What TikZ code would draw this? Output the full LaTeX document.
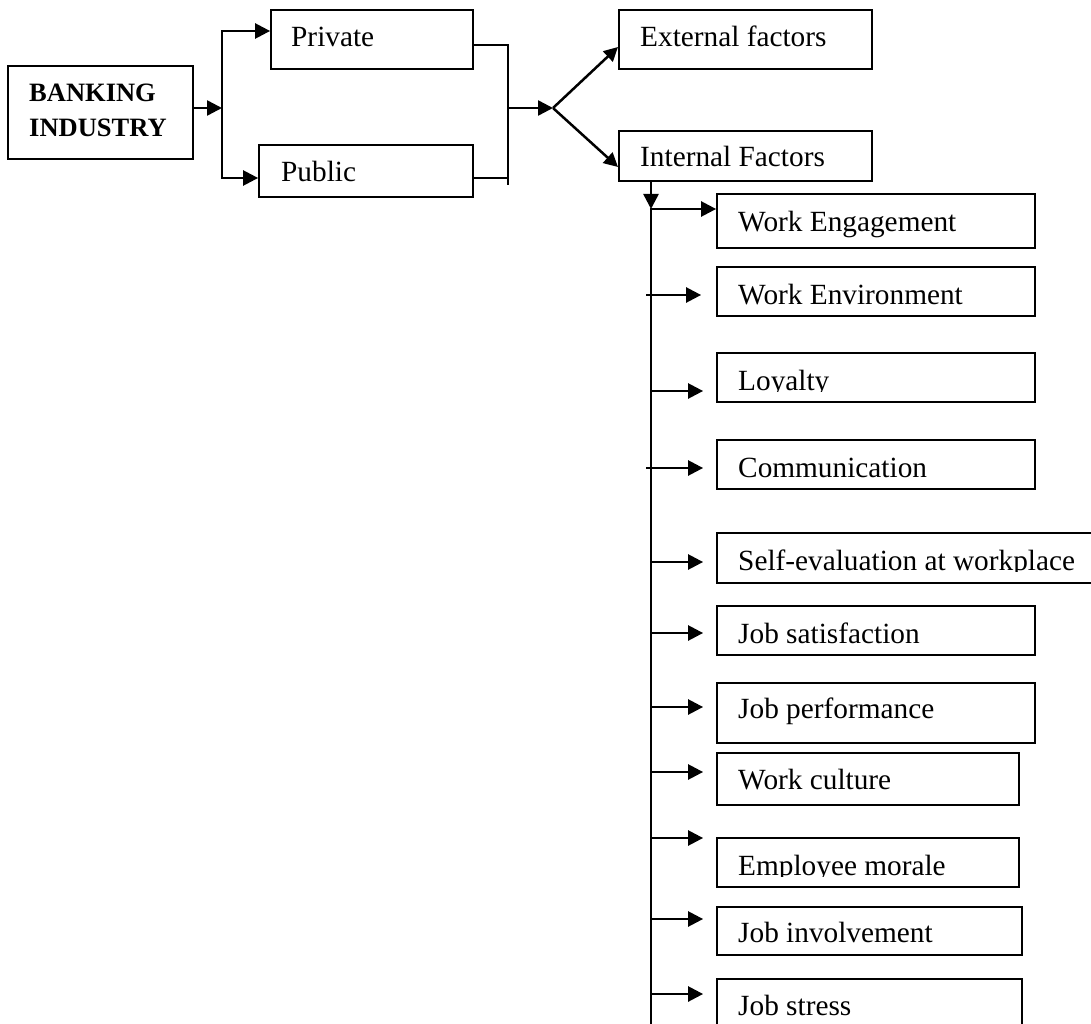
\documentclass[tikz,border=0pt]{standalone}
\usepackage{fontspec}
\setmainfont{Liberation Serif}
\usetikzlibrary{arrows.meta,fit,calc}
\begin{document}
\begin{tikzpicture}[x=1pt,y=-1pt,
  box/.style={draw, line width=1.8pt, inner sep=0pt, rectangle},
  lbl/.style={anchor=base west, inner sep=0pt, font=\fontsize{29.3}{34}\selectfont},
  blbl/.style={anchor=base west, inner sep=0pt, font=\fontsize{26.5}{35}\selectfont\bfseries},
  arr/.style={line width=2.5pt, line cap=rect, -{Triangle[length=15pt,width=15pt]}},
  darr/.style={line width=2.5pt, -{Triangle[length=14pt,width=14pt]}},
  conn/.style={line width=2.5pt},
  thinconn/.style={line width=1.6pt}]
\useasboundingbox (0,0) rectangle (1091,1024);
\clip (0,0) rectangle (1091,1024);

% boxes
\node[box, fit={(8,66) (193,159)}] (bank) {};
\node[box, fit={(271,10) (473,69)}] (priv) {};
\node[box, fit={(259,145) (473,197)}] (pub) {};
\node[box, fit={(619,10) (872,69)}] (ext) {};
\node[box, fit={(619,131) (872,181)}] (int) {};
\node[box, fit={(717,194) (1035,248)}] (we) {};
\node[box, fit={(717,267) (1035,316)}] (wenv) {};
\node[box, fit={(717,353) (1035,402)}] (loy) {};
\node[box, fit={(717,440) (1035,489)}] (com) {};
\node[box, fit={(717,533) (1110,583)}] (self) {};
\node[box, fit={(717,606) (1035,655)}] (jsat) {};
\node[box, fit={(717,683) (1035,743)}] (jperf) {};
\node[box, fit={(717,753) (1019,805)}] (wcul) {};
\node[box, fit={(717,838) (1019,887)}] (emor) {};
\node[box, fit={(717,907) (1022,955)}] (jinv) {};
\node[box, fit={(717,979) (1022,1040)}] (jstr) {};

% texts
\node[blbl] (bank-t1) at (29,102) {BANKING};
\node[blbl] (bank-t2) at (29,137) {INDUSTRY};
\node[lbl] (priv-t) at (291,47) {Private};
\node[lbl] (pub-t) at (281,182) {Public};
\node[lbl] (ext-t) at (640,47) {External factors};
\node[lbl] (int-t) at (640,167) {Internal Factors};
\node[lbl] (we-t) at (738,232) {Work Engagement};
\node[lbl] (wenv-t) at (738,304) {Work Environment};
\begin{scope}
  \clip (717,353) rectangle (1035,391.5);
  \node[lbl] (loy-t) at (738,390) {Loyalty};
\end{scope}
\node[lbl] (com-t) at (738,477) {Communication};
\begin{scope}
  \clip (717,533) rectangle (1091,571.5);
  \node[lbl] (self-t) at (738,570) {Self-evaluation at workplace};
\end{scope}
\node[lbl] (jsat-t) at (738,643) {Job satisfaction};
\node[lbl] (jperf-t) at (738,718) {Job performance};
\node[lbl] (wcul-t) at (738,789) {Work culture};
\begin{scope}
  \clip (717,838) rectangle (1019,876.5);
  \node[lbl] (emor-t) at (738,875) {Employee morale};
\end{scope}
\node[lbl] (jinv-t) at (738,942) {Job involvement};
\node[lbl] (jstr-t) at (738,1015) {Job stress};

% left fork
\coordinate (f1) at (222,108);
\coordinate (f1a) at (222,31);
\coordinate (f1b) at (222,178);
\draw[arr] (bank.east |- f1) -- (f1);
\draw[arr] (f1b) -- (f1a) -- (priv.west |- f1a);
\draw[arr] (f1b) -- (pub.west |- f1b);

% merge
\coordinate (m1) at (508,45);
\coordinate (m2) at (508,178);
\coordinate (m3) at (508,185);
\coordinate (m0) at (508,108);
\coordinate (j) at (553,108);
\draw[thinconn] (priv.east |- m1) -- (m1) -- (m3);
\draw[thinconn] (pub.east |- m2) -- (m2);
\draw[arr] (m0) -- (j);

% split
\coordinate (e1) at (618,47);
\coordinate (i1) at (618,167);
\draw[darr] (j) -- (e1);
\draw[darr] (j) -- (i1);

% trunk
\coordinate (t0) at (651,209);
\coordinate (tb) at (651,1035);
\draw[arr] (int.south -| t0) -- (t0);
\draw[conn] (t0) -- (tb);
\draw[arr] (t0) -- (we.west |- t0);

\draw[arr, shorten >=15pt] (647,295) -- (wenv.west |- 0,295);
\draw[arr, shorten >=13pt] (651,391) -- (loy.west |- 0,391);
\draw[arr, shorten >=13pt] (647,468) -- (com.west |- 0,468);
\draw[arr, shorten >=13pt] (651,562) -- (self.west |- 0,562);
\draw[arr, shorten >=13pt] (651,633) -- (jsat.west |- 0,633);
\draw[arr, shorten >=13pt] (651,707) -- (jperf.west |- 0,707);
\draw[arr, shorten >=13pt] (651,772) -- (wcul.west |- 0,772);
\draw[arr, shorten >=13pt] (651,838) -- (emor.west |- 0,838);
\draw[arr, shorten >=13pt] (651,919) -- (jinv.west |- 0,919);
\draw[arr, shorten >=13pt] (651,994) -- (jstr.west |- 0,994);
\end{tikzpicture}
\end{document}
